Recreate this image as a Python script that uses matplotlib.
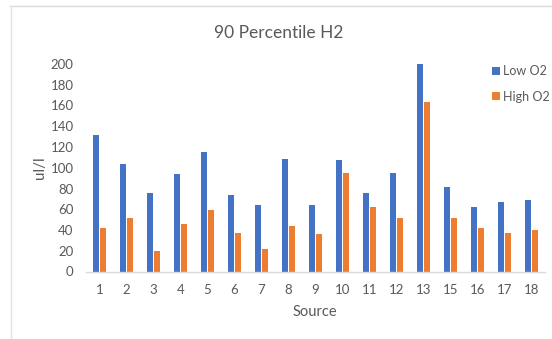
import numpy as np
import matplotlib
matplotlib.use("Agg")
import matplotlib.pyplot as plt
from matplotlib.lines import Line2D

plt.rcParams['font.family'] = ['Lato', 'DejaVu Sans']

# Data
sources = ['1', '2', '3', '4', '5', '6', '7', '8', '9', '10', '11', '12', '13', '15', '16', '17', '18']
low_o2 = [132, 104, 76, 94, 115, 74, 64, 108, 64, 107, 76, 95, 200, 81, 62, 67, 69]
high_o2 = [42, 52, 20, 46, 59, 37, 22, 44, 36, 95, 62, 52, 163, 52, 42, 37, 40]

text_grey = '#595959'

fig = plt.figure(figsize=(5.52, 3.39), dpi=100)
ax = fig.add_axes([86 / 552, 1 - 271.5 / 339, (545 - 86) / 552, (271.5 - 64) / 339])

x = np.arange(len(sources))
ax.bar(x - 0.135, low_o2, width=0.22, color='#4472C4', label='Low O2')
ax.bar(x + 0.135, high_o2, width=0.22, color='#ED7D31', label='High O2')

ax.set_xlim(-0.5, len(sources) - 0.5)
ax.set_ylim(0, 200)
ax.set_yticks(range(0, 201, 20))
ax.set_xticks(x)
ax.set_xticklabels(sources)
ax.tick_params(axis='both', length=0, labelsize=9.5, colors=text_grey)
ax.tick_params(axis='y', pad=9)
ax.tick_params(axis='x', pad=9)

for side in ['top', 'right', 'left']:
    ax.spines[side].set_visible(False)
ax.spines['bottom'].set_color('#D9D9D9')
ax.spines['bottom'].set_linewidth(1)

# axis titles and chart title, placed on the figure
fig.text(40 / 552, 1 - 168 / 339, 'ul/l', fontsize=11, color=text_grey,
         rotation=90, ha='center', va='center')
fig.text(315 / 552, 1 - 312 / 339, 'Source', fontsize=10.5, color=text_grey,
         ha='center', va='center')
fig.text(279 / 552, 1 - 33 / 339, '90 Percentile H2', fontsize=12.5, color=text_grey,
         ha='center', va='center')

ax.legend(loc='upper left', bbox_to_anchor=(487 / 552, 1 - 60 / 339),
          bbox_transform=fig.transFigure, frameon=False, fontsize=9,
          handlelength=0.6, handleheight=0.6, handletextpad=0.3,
          labelspacing=1.1, labelcolor=text_grey, borderaxespad=0)

# chart frame
fig.add_artist(Line2D([10 / 552, 1], [1 - 6 / 339, 1 - 6 / 339], color='#D9D9D9', lw=1))
fig.add_artist(Line2D([10.5 / 552, 10.5 / 552], [0, 1 - 6 / 339], color='#E3E3E3', lw=1))

fig.savefig('out.png', dpi=100)
